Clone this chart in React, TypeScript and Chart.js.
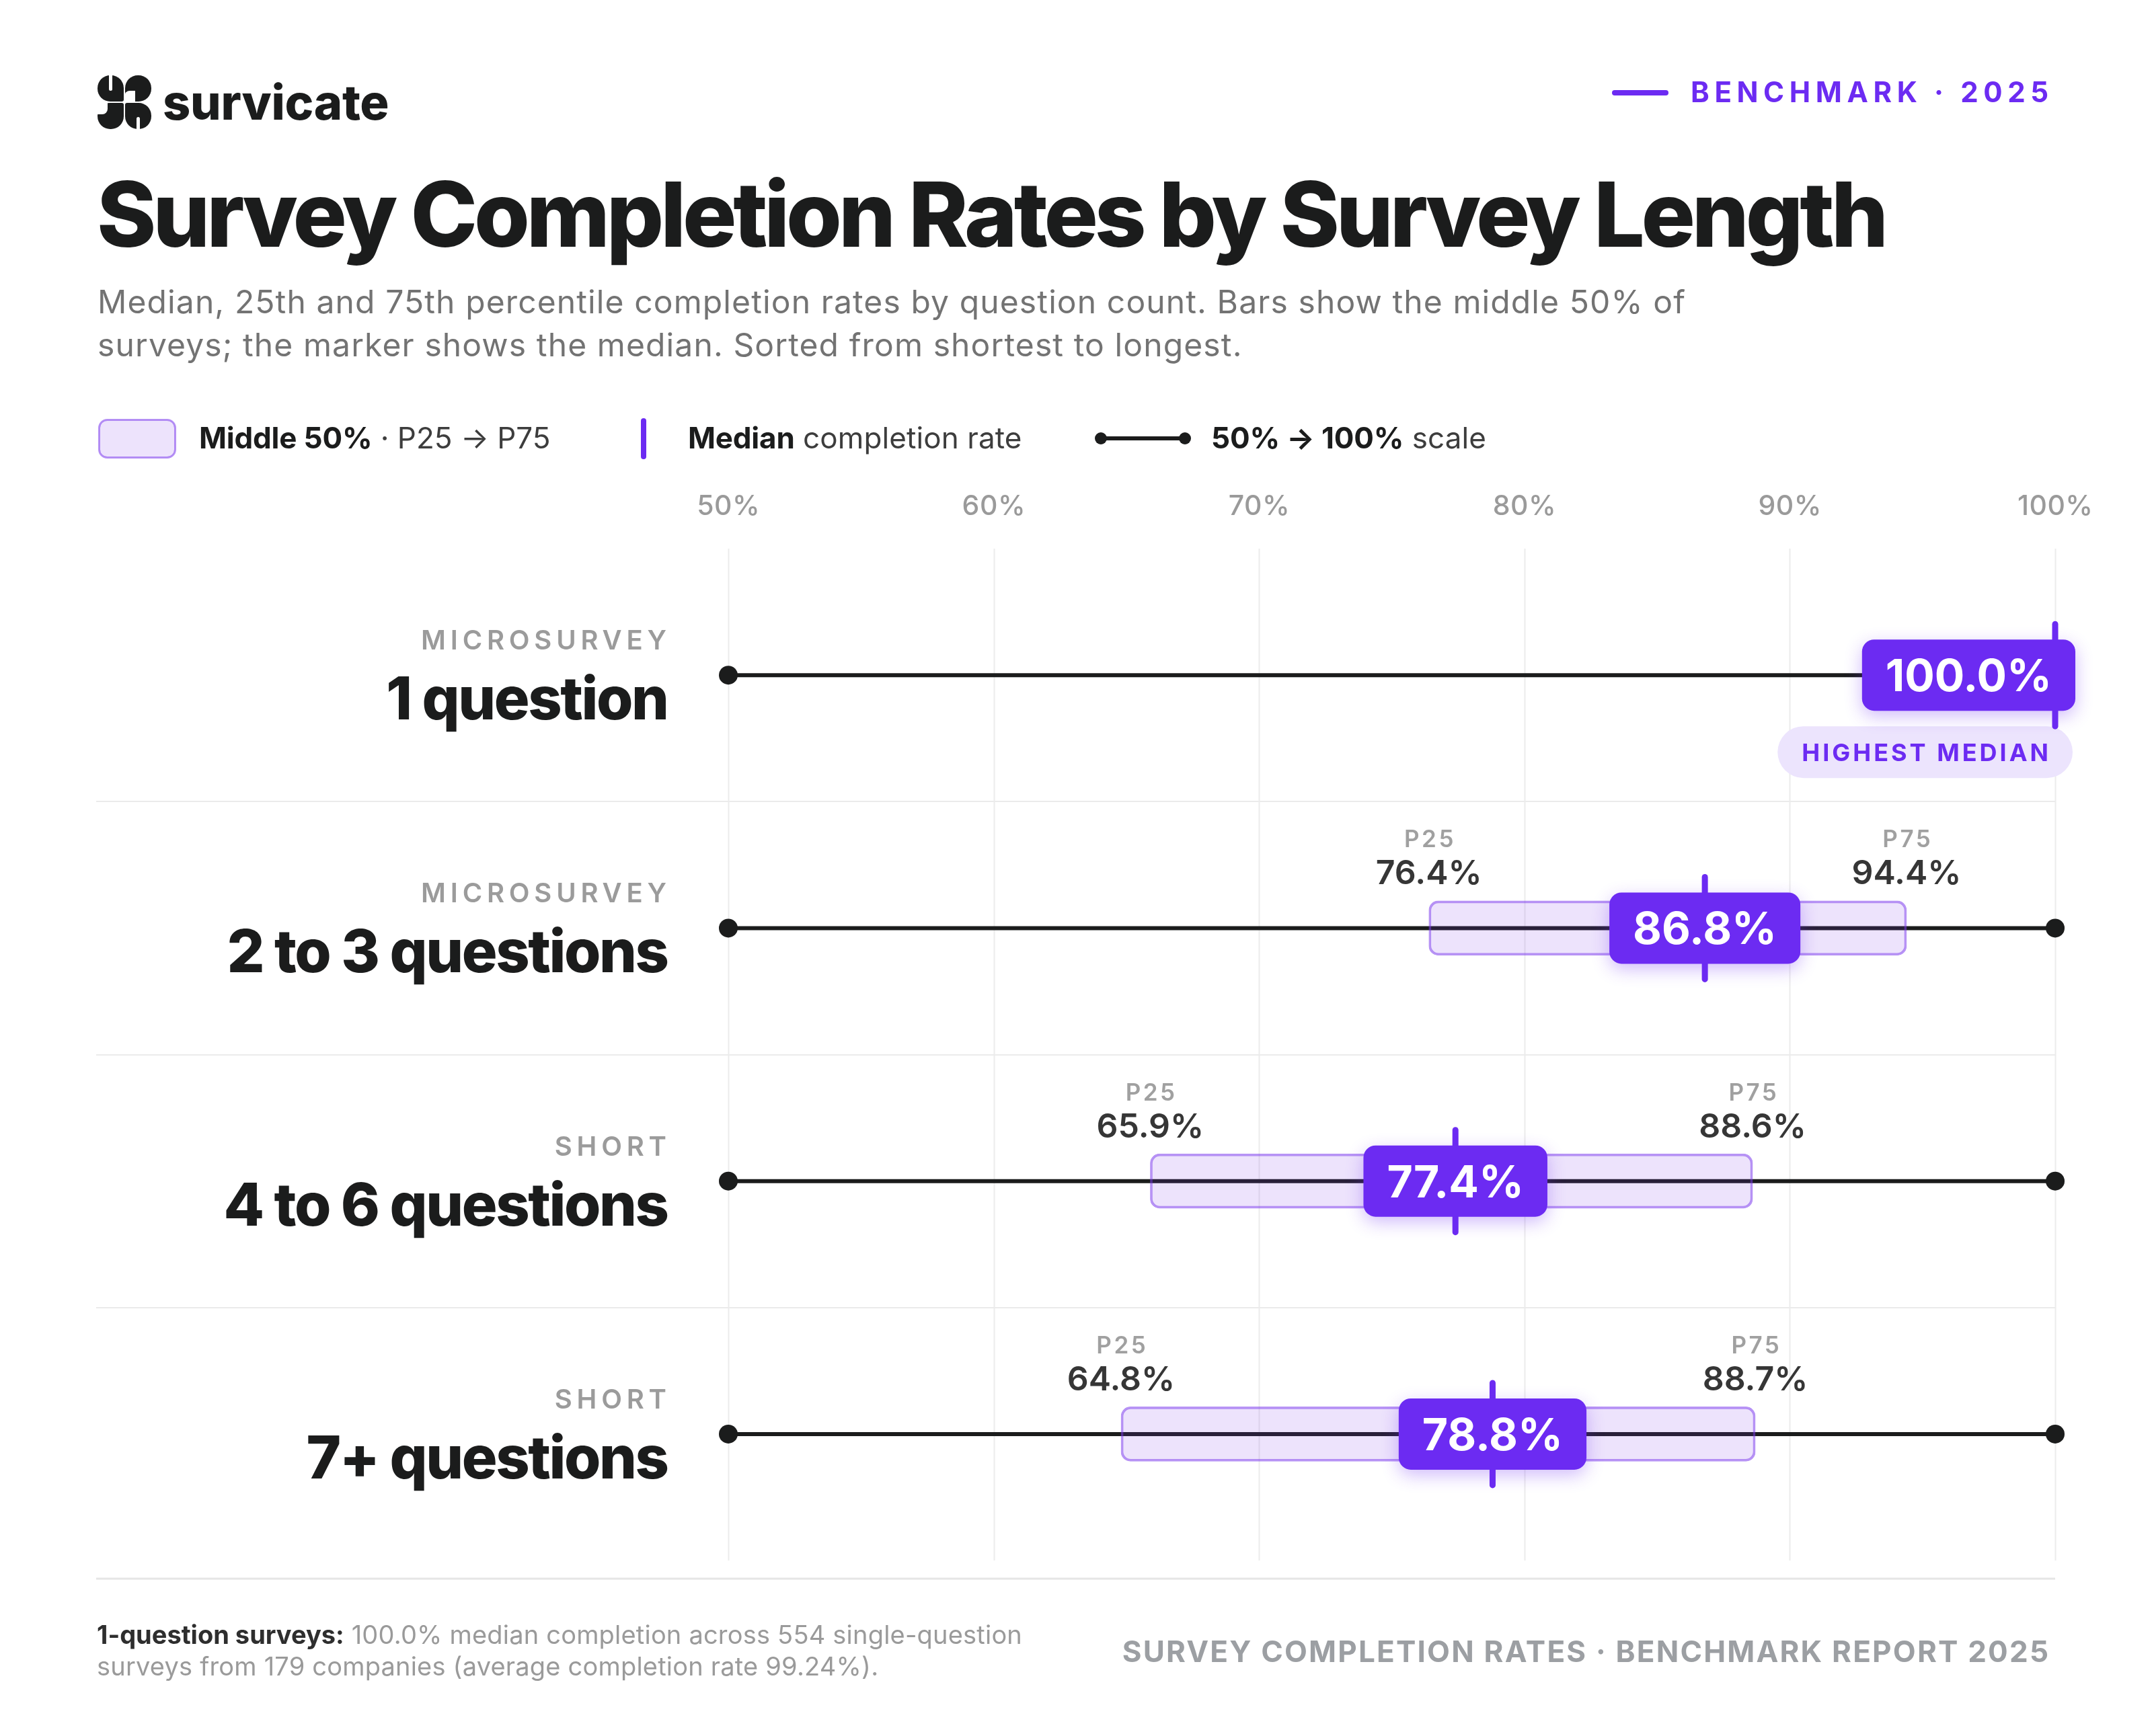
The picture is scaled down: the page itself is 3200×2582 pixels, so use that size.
import React, { useEffect, useRef } from 'react';
import { Chart, registerables } from 'chart.js';
Chart.register(...registerables);

// ---------- DATA ----------
const categories = ['1 question', '2 to 3 questions', '4 to 6 questions', '7+ questions'];
const segments = ['MICROSURVEY', 'MICROSURVEY', 'SHORT', 'SHORT'];
const p25 = [100, 76.4, 65.9, 64.8];
const median = [100, 86.8, 77.4, 78.8];
const p75 = [100, 94.4, 88.6, 88.7];
const tickValues = [50, 60, 70, 80, 90, 100];
const tickLabels = ['50%', '60%', '70%', '80%', '90%', '100%'];

const TITLE = 'Survey Completion Rates by Survey Length';
const SUB1 = 'Median, 25th and 75th percentile completion rates by question count. Bars show the middle 50% of';
const SUB2 = 'surveys; the marker shows the median. Sorted from shortest to longest.';

const W = 3200;
const H = 2582;
const PURPLE = '#6C2BF2';
const INK = '#1b1c1c';
const FONT = 'Inter, "Noto Sans", sans-serif';

function f(weight: number, size: number) {
  return `${weight} ${size}px ${FONT}`;
}

function measure(ctx: any, s: string, font: string, ls = 0) {
  ctx.font = font;
  ctx.letterSpacing = ls + 'px';
  const w = ctx.measureText(s).width;
  ctx.letterSpacing = '0px';
  return w;
}

function txt(ctx: any, s: string, x: number, y: number, font: string, color: string, align: CanvasTextAlign = 'left', ls = 0, baseline: CanvasTextBaseline = 'alphabetic') {
  ctx.save();
  ctx.font = font;
  ctx.fillStyle = color;
  ctx.textAlign = align;
  ctx.textBaseline = baseline;
  ctx.letterSpacing = ls + 'px';
  let dx = 0;
  if (align === 'center') dx = ls / 2;
  if (align === 'right') dx = ls;
  ctx.fillText(s, x + dx, y);
  ctx.restore();
}

function segs(ctx: any, parts: { t: string; font: string; color: string; ls?: number }[], x: number, y: number) {
  let cx = x;
  for (const p of parts) {
    txt(ctx, p.t, cx, y, p.font, p.color, 'left', p.ls || 0);
    cx += measure(ctx, p.t, p.font, p.ls || 0);
  }
  return cx;
}

function fitLS(ctx: any, s: string, font: string, target: number, lo = -8, hi = 4) {
  const w0 = measure(ctx, s, font, 0);
  const ls = (target - w0) / Math.max(1, s.length - 1);
  return Math.max(lo, Math.min(hi, ls));
}

function rr(ctx: any, x: number, y: number, w: number, h: number, r: any) {
  ctx.beginPath();
  ctx.roundRect(x, y, w, h, r);
}

function drawLogo(ctx: any) {
  const lx = 145, ly = 112, c = 39, g = 2;
  const R = 19;
  ctx.save();
  ctx.fillStyle = INK;
  rr(ctx, lx, ly, c, c, [R, R, 3, R]);
  ctx.fill();
  rr(ctx, lx + c + g, ly, c, c, [R, R, R, 3]);
  ctx.fill();
  rr(ctx, lx, ly + c + g, c, c, [R, 3, R, R]);
  ctx.fill();
  rr(ctx, lx + c + g, ly + c + g, c, c, [3, R, R, R]);
  ctx.fill();
  ctx.fillStyle = '#ffffff';
  rr(ctx, lx + 17, ly - 1, 5, 24, [0, 0, 2.5, 2.5]);
  ctx.fill();
  rr(ctx, lx + c + g - 1, ly + 23, 16, 17, [8, 0, 0, 0]);
  ctx.fill();
  rr(ctx, lx - 1, ly + c + g - 1, 16, 18, [0, 0, 8, 0]);
  ctx.fill();
  rr(ctx, lx + c + g + 17, ly + 2 * c + g - 18, 5, 19, [2.5, 2.5, 0, 0]);
  ctx.fill();
  ctx.restore();
}

const overlay = {
  id: 'overlay',
  beforeDraw(chart: any) {
    const ctx = chart.ctx;
    ctx.save();
    ctx.fillStyle = '#ffffff';
    ctx.fillRect(0, 0, W, H);
    ctx.restore();
  },
  beforeDatasetsDraw(chart: any) {
    const ctx = chart.ctx;
    const xs = chart.scales.x;
    const ys = chart.scales.y;
    const area = chart.chartArea;
    const x100 = xs.getPixelForValue(100);
    const x50 = xs.getPixelForValue(50);
    ctx.save();
    ctx.strokeStyle = '#ececec';
    ctx.lineWidth = 2;
    for (const v of tickValues) {
      const x = Math.round(xs.getPixelForValue(v)) + 0.5;
      ctx.beginPath();
      ctx.moveTo(x, area.top);
      ctx.lineTo(x, area.bottom);
      ctx.stroke();
    }
    ctx.strokeStyle = '#ebebeb';
    ctx.lineWidth = 2;
    for (let i = 0; i < categories.length - 1; i++) {
      const yb = Math.round((ys.getPixelForValue(i) + ys.getPixelForValue(i + 1)) / 2);
      ctx.beginPath();
      ctx.moveTo(143, yb);
      ctx.lineTo(x100, yb);
      ctx.stroke();
    }
    ctx.strokeStyle = '#e6e6e6';
    ctx.lineWidth = 3;
    ctx.beginPath();
    ctx.moveTo(143, area.bottom + 27);
    ctx.lineTo(x100, area.bottom + 27);
    ctx.stroke();

    for (let i = 0; i < categories.length; i++) {
      const cy = ys.getPixelForValue(i);
      ctx.strokeStyle = INK;
      ctx.lineWidth = 6;
      ctx.beginPath();
      ctx.moveTo(x50, cy);
      ctx.lineTo(x100, cy);
      ctx.stroke();
      ctx.fillStyle = INK;
      for (const x of [x50, x100]) {
        ctx.beginPath();
        ctx.arc(x, cy, 14, 0, Math.PI * 2);
        ctx.fill();
      }
    }
    ctx.restore();
  },
  afterDatasetsDraw(chart: any) {
    const ctx = chart.ctx;
    const xs = chart.scales.x;
    const ys = chart.scales.y;
    const x100 = xs.getPixelForValue(100);
    const best = median.indexOf(Math.max(...median));
    for (let i = 0; i < categories.length; i++) {
      const cy = ys.getPixelForValue(i);
      const mx = xs.getPixelForValue(median[i]);
      if (p75[i] > p25[i]) {
        for (const [lab, v] of [['P25', p25[i]], ['P75', p75[i]]] as [string, number][]) {
          const px = xs.getPixelForValue(v);
          txt(ctx, lab, px, cy - 120, f(600, 35), '#a0a0a0', 'center', 3.5);
          txt(ctx, v.toFixed(1) + '%', px, cy - 65, f(600, 50), '#363636', 'center', 0);
        }
      }
      const bf = f(700, 66);
      const label = median[i].toFixed(1) + '%';
      const tw = measure(ctx, label, bf);
      const bw = tw + 70;
      const bh = 106;
      let left = mx - bw / 2;
      const maxRight = x100 + 30;
      if (left + bw > maxRight) left = maxRight - bw;

      if (i === best) {
        const pf = f(700, 36);
        const ptw = measure(ctx, 'HIGHEST MEDIAN', pf, 4) - 4;
        const pw = ptw + 72;
        const pr = x100 + 26;
        const top = cy + 76;
        ctx.save();
        ctx.fillStyle = '#ECE4FD';
        rr(ctx, pr - pw, top, pw, 77, 38.5);
        ctx.fill();
        ctx.restore();
        txt(ctx, 'HIGHEST MEDIAN', pr - pw / 2, cy + 128, pf, PURPLE, 'center', 4);
      }

      ctx.save();
      ctx.strokeStyle = PURPLE;
      ctx.lineWidth = 9;
      ctx.lineCap = 'round';
      ctx.beginPath();
      ctx.moveTo(mx, cy - 76);
      ctx.lineTo(mx, cy + 76);
      ctx.stroke();
      ctx.shadowColor = 'rgba(108,43,242,0.32)';
      ctx.shadowBlur = 26;
      ctx.shadowOffsetY = 8;
      ctx.fillStyle = PURPLE;
      rr(ctx, left, cy - bh / 2, bw, bh, 18);
      ctx.fill();
      ctx.restore();
      txt(ctx, label, left + bw / 2, cy + 24, bf, '#ffffff', 'center', 0);
    }
  },
  afterDraw(chart: any) {
    const ctx = chart.ctx;
    const xs = chart.scales.x;
    const ys = chart.scales.y;
    const area = chart.chartArea;

    drawLogo(ctx);
    txt(ctx, 'survicate', 242, 178, f(800, 72), INK, 'left', -0.3);

    ctx.save();
    ctx.strokeStyle = PURPLE;
    ctx.lineWidth = 8;
    ctx.lineCap = 'round';
    ctx.beginPath();
    ctx.moveTo(2401, 138);
    ctx.lineTo(2477, 138);
    ctx.stroke();
    ctx.restore();
    txt(ctx, 'BENCHMARK · 2025', 2514, 152, f(700, 42), PURPLE, 'left', 7.6);

    const tf = f(800, 134);
    txt(ctx, TITLE, 144, 367, tf, INK, 'left', fitLS(ctx, TITLE, tf, 2664));
    const sf = f(400, 48);
    const sls = fitLS(ctx, SUB1, sf, 2361, -2, 2);
    txt(ctx, SUB1, 145, 466, sf, '#737373', 'left', sls);
    txt(ctx, SUB2, 145, 530, sf, '#737373', 'left', sls);

    ctx.save();
    ctx.fillStyle = 'rgba(124,58,237,0.14)';
    ctx.strokeStyle = 'rgba(124,58,237,0.55)';
    ctx.lineWidth = 3;
    rr(ctx, 147.5, 624.5, 113, 56, 12);
    ctx.fill();
    ctx.stroke();
    ctx.strokeStyle = PURPLE;
    ctx.lineWidth = 8;
    ctx.lineCap = 'round';
    ctx.beginPath();
    ctx.moveTo(957, 626);
    ctx.lineTo(957, 679);
    ctx.stroke();
    ctx.strokeStyle = INK;
    ctx.lineWidth = 6;
    ctx.lineCap = 'butt';
    ctx.beginPath();
    ctx.moveTo(1637, 652);
    ctx.lineTo(1762, 652);
    ctx.stroke();
    ctx.fillStyle = INK;
    for (const x of [1637, 1762]) {
      ctx.beginPath();
      ctx.arc(x, 652, 9, 0, Math.PI * 2);
      ctx.fill();
    }
    ctx.restore();
    const lb = f(700, 44), lr = f(400, 44);
    segs(ctx, [
      { t: 'Middle 50%', font: lb, color: INK, ls: -0.2 },
      { t: ' · P25 → P75', font: lr, color: '#3d3d3d', ls: 0 },
    ], 296, 667);
    segs(ctx, [
      { t: 'Median', font: lb, color: INK, ls: -0.2 },
      { t: ' completion rate', font: lr, color: '#3d3d3d', ls: 0.1 },
    ], 1023, 667);
    segs(ctx, [
      { t: '50% → 100%', font: lb, color: INK, ls: -0.2 },
      { t: ' scale', font: lr, color: '#3d3d3d', ls: 0.1 },
    ], 1801, 667);

    tickValues.forEach((v, k) => {
      txt(ctx, tickLabels[k], xs.getPixelForValue(v), area.top - 62, f(500, 41), '#9a9a9a', 'center', 0.5, 'middle');
    });

    categories.forEach((cat, i) => {
      const cy = ys.getPixelForValue(i);
      txt(ctx, segments[i], 991, cy - 38, f(600, 40), '#9b9b9b', 'right', 6.8);
      txt(ctx, cat, 995, cy + 66, f(800, 88), INK, 'right', -2.4);
    });

    const ff = 38;
    segs(ctx, [
      { t: '1-question surveys:', font: f(700, ff), color: '#2e2e2e', ls: 0 },
      { t: ' 100.0% median completion across 554 single-question', font: f(400, ff), color: '#9a9a9a', ls: 0.2 },
    ], 144, 2445);
    txt(ctx, 'surveys from 179 companies (average completion rate 99.24%).', 144, 2492, f(400, ff), '#9a9a9a', 'left', 0.2);
    txt(ctx, 'SURVEY COMPLETION RATES · BENCHMARK REPORT 2025', 3046, 2472, f(700, 44), '#9c9fa3', 'right', 2.2);
  },
};

export default function App() {
  const ref = useRef<HTMLCanvasElement | null>(null);
  useEffect(() => {
    document.body.style.margin = '0';
    document.body.style.background = '#ffffff';
    const canvas = ref.current!;
    const chart = new Chart(canvas, {
      type: 'bar',
      data: {
        labels: categories,
        datasets: [
          {
            label: 'Middle 50%',
            data: p25.map((v, i) => (p75[i] > v ? [v, p75[i]] : null)) as any,
            backgroundColor: 'rgba(124,58,237,0.14)',
            borderColor: 'rgba(124,58,237,0.55)',
            borderWidth: 3,
            borderRadius: 14,
            borderSkipped: false,
            barThickness: 81,
          },
        ],
      },
      options: {
        indexAxis: 'y',
        responsive: false,
        maintainAspectRatio: false,
        animation: false,
        devicePixelRatio: 1,
        layout: { padding: { left: 1083, right: 144, top: 816, bottom: 261 } },
        scales: {
          x: { type: 'linear', min: 50, max: 100, display: false },
          y: { type: 'category', display: false, offset: true },
        },
        plugins: { legend: { display: false }, tooltip: { enabled: false } },
      },
      plugins: [overlay],
    });
    return () => chart.destroy();
  }, []);
  return (
    <canvas ref={ref} width={W} height={H} style={{ display: 'block', width: W + 'px', height: H + 'px' }} />
  );
}
